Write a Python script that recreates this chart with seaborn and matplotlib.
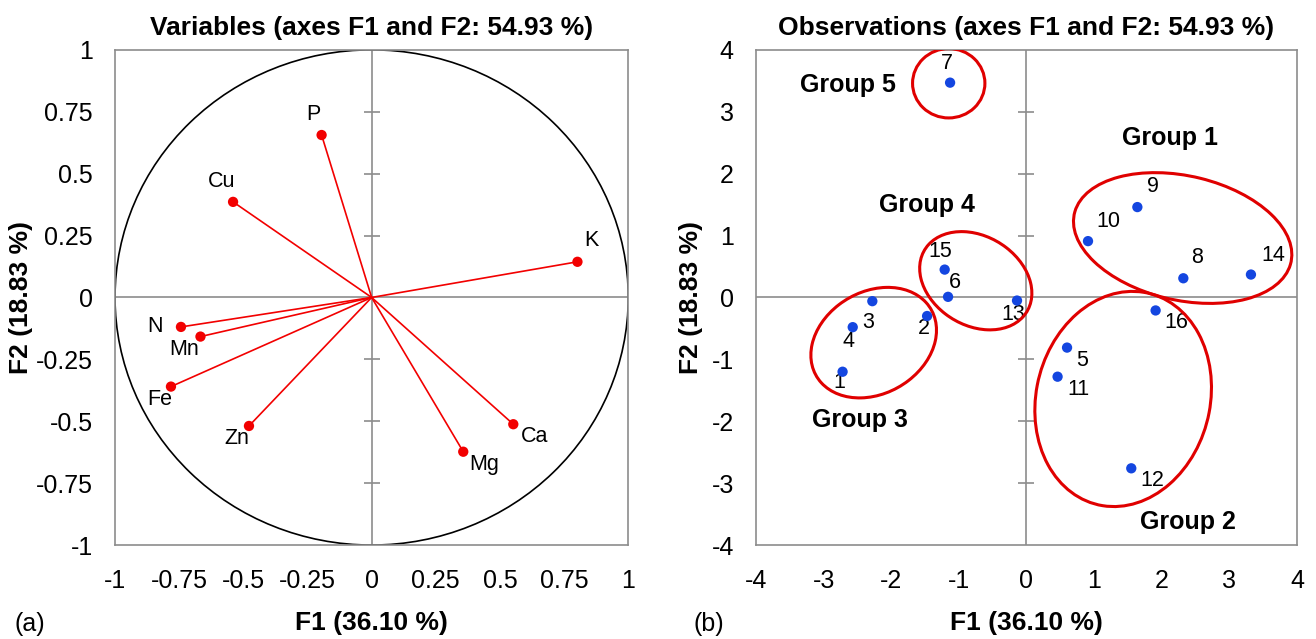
import numpy as np
import pandas as pd
import matplotlib
matplotlib.use('Agg')
import matplotlib.pyplot as plt
from matplotlib.patches import Ellipse, Circle
import seaborn as sns

# ── Data ──────────────────────────────────────────────────────────────────────
var_names = ['P', 'Cu', 'K', 'N', 'Mn', 'Fe', 'Zn', 'Mg', 'Ca']
var_f1 = [-0.195, -0.54, 0.802, -0.743, -0.667, -0.782, -0.478, 0.357, 0.552]
var_f2 = [0.656, 0.386, 0.144, -0.119, -0.158, -0.360, -0.519, -0.623, -0.512]

obs_ids = ['1', '2', '3', '4', '5', '6', '7', '8', '9', '10', '11', '12', '13', '14', '15', '16']
obs_f1 = [-2.72, -1.47, -2.28, -2.57, 0.60, -1.16, -1.13, 2.32, 1.64, 0.91, 0.46, 1.55, -0.14, 3.32, -1.21, 1.91]
obs_f2 = [-1.20, -0.30, -0.06, -0.48, -0.81, 0.01, 3.47, 0.31, 1.46, 0.91, -1.28, -2.76, -0.05, 0.37, 0.45, -0.21]

# group ellipses: centre, width, height, angle; label position
groups = ['Group 1', 'Group 2', 'Group 3', 'Group 4', 'Group 5']
grp_cx = [2.31, 1.43, -2.26, -0.75, -1.15]
grp_cy = [0.96, -1.64, -0.73, 0.27, 3.46]
grp_w = [3.30, 3.50, 2.02, 1.82, 1.07]
grp_h = [2.00, 2.58, 1.60, 1.40, 1.12]
grp_ang = [-15, 80, 40, -40, 0]
grp_lx = [2.12, 2.39, -2.47, -1.47, -2.64]
grp_ly = [2.57, -3.63, -1.98, 1.50, 3.44]

var_ticks = [-1, -0.75, -0.5, -0.25, 0, 0.25, 0.5, 0.75, 1]
var_ticklabels = ['-1', '-0.75', '-0.5', '-0.25', '0', '0.25', '0.5', '0.75', '1']
obs_ticks = [-4, -3, -2, -1, 0, 1, 2, 3, 4]

title_var = 'Variables (axes F1 and F2: 54.93 %)'
title_obs = 'Observations (axes F1 and F2: 54.93 %)'
xlab = 'F1 (36.10 %)'
ylab = 'F2 (18.83 %)'

# ── Styling ───────────────────────────────────────────────────────────────────
sns.set_theme(style='white')
plt.rcParams['font.family'] = ['Liberation Sans', 'DejaVu Sans']
plt.rcParams.update({'text.color': 'black', 'axes.labelcolor': 'black',
                     'xtick.color': 'black', 'ytick.color': 'black',
                     'axes.unicode_minus': False})
RED = '#f20000'
BLUE = '#1446e0'
GREY = '#8c8c8c'

# label offsets in points
var_off = {'P': (-6, 15), 'Cu': (-8, 15), 'K': (10, 15), 'N': (-19, 0), 'Mn': (-12, -9),
           'Fe': (-8, -9), 'Zn': (-9, -9), 'Mg': (15, -9), 'Ca': (15, -9)}
obs_off = {'1': (-2, -8), '2': (-2, -9), '3': (-3, -15), '4': (-3, -10), '5': (11, -9),
           '6': (5, 10), '7': (-2, 14), '8': (10, 15), '9': (11, 15), '10': (15, 14),
           '11': (15, -9), '12': (15, -9), '13': (-3, -10), '14': (16, 14), '15': (-3, 13),
           '16': (15, -9)}

fig = plt.figure(figsize=(13.16, 6.39), dpi=100)
ax1 = fig.add_axes([0.0874, 0.147, 0.390, 0.775])
ax2 = fig.add_axes([0.5745, 0.147, 0.411, 0.775])


def frame(ax, ticks, lim, ylab_x):
    ax.set_xlim(-lim, lim)
    ax.set_ylim(-lim, lim)
    ax.set_xticks(ticks)
    ax.set_yticks(ticks)
    ax.tick_params(length=0, labelsize=18)
    ax.tick_params(axis='x', pad=17)
    ax.tick_params(axis='y', pad=16)
    for s in ax.spines.values():
        s.set_color(GREY)
        s.set_linewidth(1.2)
    ax.axhline(0, color=GREY, lw=1.2, zorder=1)
    ax.axvline(0, color=GREY, lw=1.2, zorder=1)
    inner = [t for t in ticks if t != 0 and abs(t) != lim]
    ax.plot(np.zeros(len(inner)), inner, ls='none', marker='_', ms=12,
            mew=1.2, color=GREY, zorder=1)
    ax.set_xlabel(xlab, fontsize=19, fontweight='bold')
    ax.set_ylabel(ylab, fontsize=19, fontweight='bold')
    ax.xaxis.set_label_coords(0.5, -0.134)
    ax.yaxis.set_label_coords(ylab_x, 0.5)


# ── (a) Variables ─────────────────────────────────────────────────────────────
frame(ax1, var_ticks, 1, -0.160)
ax1.set_xticklabels(var_ticklabels)
ax1.set_yticklabels(var_ticklabels)
ax1.add_patch(Circle((0, 0), 1, fill=False, color='black', lw=1.2, zorder=2))
for x, y in zip(var_f1, var_f2):
    ax1.plot([0, x], [0, y], color=RED, lw=1.2, zorder=3)
vdf = pd.DataFrame({'F1': var_f1, 'F2': var_f2, 'name': var_names})
sns.scatterplot(data=vdf, x='F1', y='F2', ax=ax1, color=RED, s=55,
                edgecolor='none', zorder=4, legend=False)
for n, x, y in zip(var_names, var_f1, var_f2):
    ax1.annotate(n, (x, y), xytext=var_off[n], textcoords='offset points',
                 ha='center', va='center', fontsize=15.5)
ax1.set_title(title_var, fontsize=19, fontweight='bold', pad=11)

# ── (b) Observations ──────────────────────────────────────────────────────────
frame(ax2, obs_ticks, 4, -0.098)
odf = pd.DataFrame({'F1': obs_f1, 'F2': obs_f2, 'id': obs_ids})
sns.scatterplot(data=odf, x='F1', y='F2', ax=ax2, color=BLUE, s=55,
                edgecolor='none', zorder=4, legend=False)
for n, x, y in zip(obs_ids, obs_f1, obs_f2):
    ax2.annotate(n, (x, y), xytext=obs_off[n], textcoords='offset points',
                 ha='center', va='center', fontsize=15.5)
for g, cx, cy, w, h, a, lx, ly in zip(groups, grp_cx, grp_cy, grp_w, grp_h,
                                      grp_ang, grp_lx, grp_ly):
    ax2.add_patch(Ellipse((cx, cy), w, h, angle=a, fill=False, color='#e00000',
                          lw=2.2, zorder=3))
    ax2.text(lx, ly, g, ha='center', va='center', fontsize=18, fontweight='bold')
ax2.set_title(title_obs, fontsize=19, fontweight='bold', pad=11)

fig.text(0.011, 0.012, '(a)', fontsize=18, va='baseline')
fig.text(0.527, 0.012, '(b)', fontsize=18, va='baseline')

fig.savefig('out.png', dpi=100)
